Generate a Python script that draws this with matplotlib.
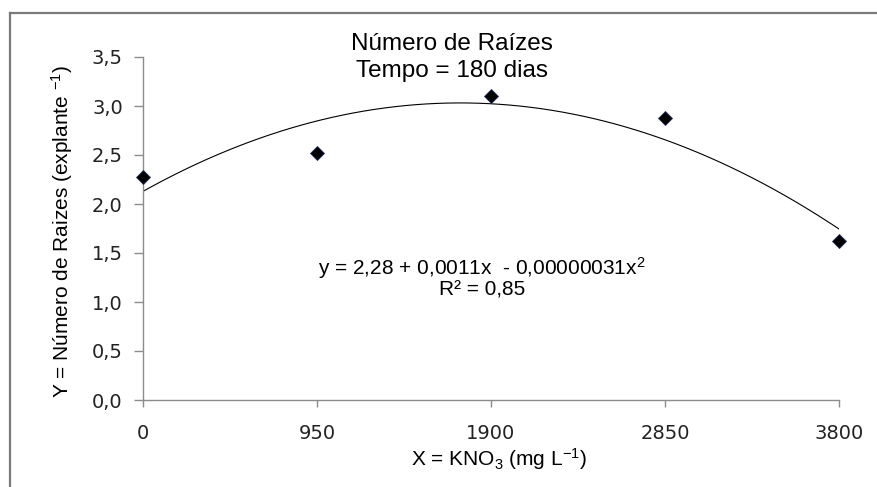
import matplotlib
matplotlib.use("Agg")
import matplotlib.pyplot as plt
from matplotlib.lines import Line2D
import numpy as np

# KNO3 doses (mg/L) and mean number of roots per explant at 180 days
doses = [0, 950, 1900, 2850, 3800]
roots = [2.28, 2.52, 3.10, 2.88, 1.62]
xticks = [0, 950, 1900, 2850, 3800]
yticks = [0.0, 0.5, 1.0, 1.5, 2.0, 2.5, 3.0, 3.5]

plt.rcParams['mathtext.fontset'] = 'custom'
plt.rcParams['mathtext.rm'] = 'Liberation Sans'
plt.rcParams['mathtext.default'] = 'regular'

fig = plt.figure(figsize=(8.78, 4.87), dpi=100)
fig.patch.set_facecolor('white')
fig.patch.set_edgecolor('white')
fig.patch.set_linewidth(0)
ax = fig.add_axes([143/878, 87/487, 696/878, 343/487])

# frame round the chart area (only left and top edges fall inside the image)
fx = 10/878
fy = 1 - 13/487
fig.lines.append(Line2D([fx, fx], [-0.1, fy], transform=fig.transFigure,
                        color='#7a7a7a', linewidth=1.6))
fig.lines.append(Line2D([fx, 1.1], [fy, fy], transform=fig.transFigure,
                        color='#7a7a7a', linewidth=1.6))

# quadratic trend line through the means
coef = np.polyfit(doses, roots, 2)
xs = np.linspace(0, 3800, 200)
ax.plot(xs, np.polyval(coef, xs), color='black', linewidth=0.8, zorder=2)

ax.plot(doses, roots, linestyle='none', marker='D', markersize=7.2,
        markerfacecolor='black', markeredgecolor='#1f2f5f',
        markeredgewidth=0.6, zorder=3, clip_on=False)

ax.set_xlim(0, 3800)
ax.set_ylim(0, 3.5)
ax.set_xticks(xticks)
ax.set_xticklabels([str(v) for v in xticks])
ax.set_yticks(yticks)
ax.set_yticklabels([f"{v:.1f}".replace('.', ',') for v in yticks])

for side in ['top', 'right']:
    ax.spines[side].set_visible(False)
for side in ['left', 'bottom']:
    ax.spines[side].set_color('#8c8c8c')
    ax.spines[side].set_linewidth(1.0)

ax.tick_params(axis='y', direction='out', length=6.5, width=1.0,
               color='#8c8c8c', pad=8, labelsize=14, labelcolor='#222222')
ax.tick_params(axis='x', direction='out', length=5, width=1.0,
               color='#8c8c8c', pad=12, labelsize=14, labelcolor='#222222')
for lab in ax.get_xticklabels() + ax.get_yticklabels():
    lab.set_fontfamily('DejaVu Sans')

ax.set_ylabel('Y = Número de Raizes (explante $^{-1}$)',
              fontsize=15, family='Liberation Sans')
ax.yaxis.set_label_coords(-0.097, 0.491)
ax.set_xlabel('X = KNO$_3$ (mg L$^{-1}$)', fontsize=15,
              family='Liberation Sans')
ax.xaxis.set_label_coords(0.511, -0.135)

fig.text(452/878, 1 - 57.5/487, 'Número de Raízes\nTempo = 180 dias',
         ha='center', va='center', fontsize=17.5, family='Liberation Sans',
         linespacing=1.25)

ax.text(0.487, 0.385, 'y = 2,28 + 0,0011x  - 0,00000031x$^{2}$',
        transform=ax.transAxes, ha='center', va='center', fontsize=15,
        family='Liberation Sans')
ax.text(0.487, 0.322, 'R² = 0,85', transform=ax.transAxes, ha='center',
        va='center', fontsize=15, family='Liberation Sans')

fig.savefig('out.png', dpi=100)
